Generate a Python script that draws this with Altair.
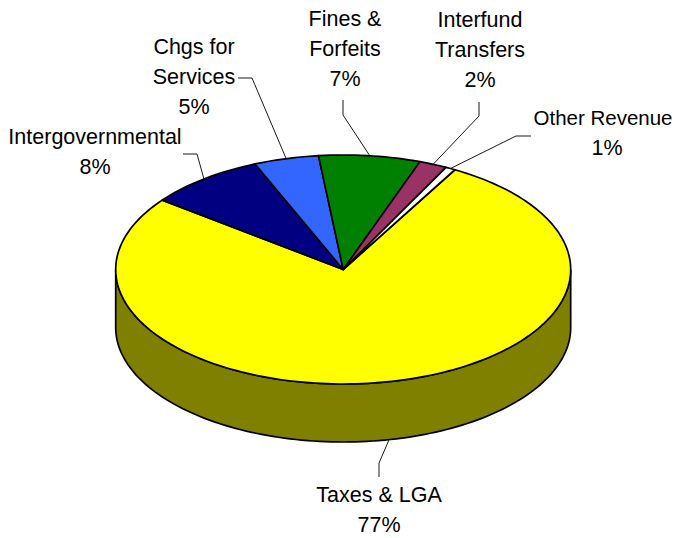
import math
import altair as alt

# Data (percent shares, clockwise from Other Revenue's start)
names = ["Taxes & LGA", "Intergovernmental", "Chgs for Services", "Fines & Forfeits", "Interfund Transfers", "Other Revenue"]
shares = [77.2, 8.3, 4.6, 7.2, 2.0, 0.7]
colors = ["#FFFF00", "#000080", "#3366FF", "#008000", "#993366", "#FFFFFF"]
label_lines = [["Taxes & LGA", "77%"], ["Intergovernmental", "8%"], ["Chgs for", "Services", "5%"],
               ["Fines &", "Forfeits", "7%"], ["Interfund", "Transfers", "2%"], ["Other Revenue", "1%"]]

# Layout (page pixels minus the 8px margin)
W, H = 665, 530
M = 8
CX, CY, RX, RY, DEPTH = 343.2 - M, 269.5 - M, 227.5, 114.5, 58
START = 29.4
LINE_H = 30
FONT = 21.5
SIDE = "#808000"
label_pos = [(379, 496), (95, 138), (194, 48), (345, 20), (480, 21), (607, 119)]
elbows = [[(379, 463), (379, 477)], [(197, 154), (183, 154)], [(252, 78), (238, 78)],
          [(343, 115), (343, 100)], [(479, 116), (479, 102)], [(516, 136), (531, 136)]]
# The page cuts anything past x=673, so the widest right-hand line is set a little tighter.
tight_lines = {"Other Revenue": (603, 20.5)}


def pt(deg, dy=0):
    a = math.radians(deg)
    return [CX + RX * math.sin(a), CY - RY * math.cos(a) + dy]


def arc(a0, a1, dy=0):
    n = max(2, int(abs(a1 - a0) / 1.5))
    return [pt(a0 + (a1 - a0) * i / n, dy) for i in range(n + 1)]


def feature(geom_type, coords, **props):
    return {"type": "Feature", "geometry": {"type": geom_type, "coordinates": coords}, "properties": props}


frame = [feature("Polygon", [[[0, 0], [W, 0], [W, H], [0, H], [0, 0]]], name="frame")]
wedges, leaders, texts = [], [], []
a = START
for name, s, lines, (lx, ly), elbow in zip(names, shares, label_lines, label_pos, elbows):
    b = a + s * 3.6
    wedges.append(feature("Polygon", [[[CX, CY]] + arc(a, b) + [[CX, CY]]], name=name))
    mid = (a + b) / 2
    # front-facing labels leave from the side wall, back-facing ones from the rim
    anchor = pt(mid, DEPTH if 90 < mid % 360 < 270 else 0)
    leaders.append(feature("LineString", [anchor] + [[x - M, y - M] for x, y in elbow], name=name))
    for i, t in enumerate(lines):
        tx, fs = tight_lines.get(t, (lx, FONT))
        texts.append({"t": t, "lon": tx - M, "lat": ly - M + i * LINE_H, "fs": fs})
    a = b

side = [feature("Polygon", [arc(90, 270) + arc(270, 90, DEPTH) + [pt(90)]], name="side")]


def geo(values, **mark):
    return alt.Chart(alt.Data(values=values)).mark_geoshape(**mark)


frame_l = geo(frame, fill="transparent", stroke="transparent", strokeWidth=0)
side_l = geo(side, fill=SIDE, stroke="black", strokeWidth=1.7)
wedge_l = geo(wedges, stroke="black", strokeWidth=1.7, strokeJoin="round").encode(
    fill=alt.Color("properties.name:N", scale=alt.Scale(domain=names, range=colors), legend=None)
)
leader_l = geo(leaders, filled=False, fill=None, stroke="black", strokeWidth=0.9)
text_l = alt.Chart(alt.Data(values=texts)).mark_text(
    font="Liberation Sans", color="black", align="center", baseline="middle"
).encode(longitude="lon:Q", latitude="lat:Q", text="t:N",
         size=alt.Size("fs:Q", scale=None, legend=None))

chart = alt.layer(frame_l, side_l, wedge_l, leader_l, text_l).project(
    type="identity", scale=1, translate=[0, 0]
).properties(width=W, height=H, padding=0, autosize=alt.AutoSizeParams(type="none")).configure_view(stroke=None)

chart.save("out.html", embed_options={"renderer": "svg", "actions": False})
